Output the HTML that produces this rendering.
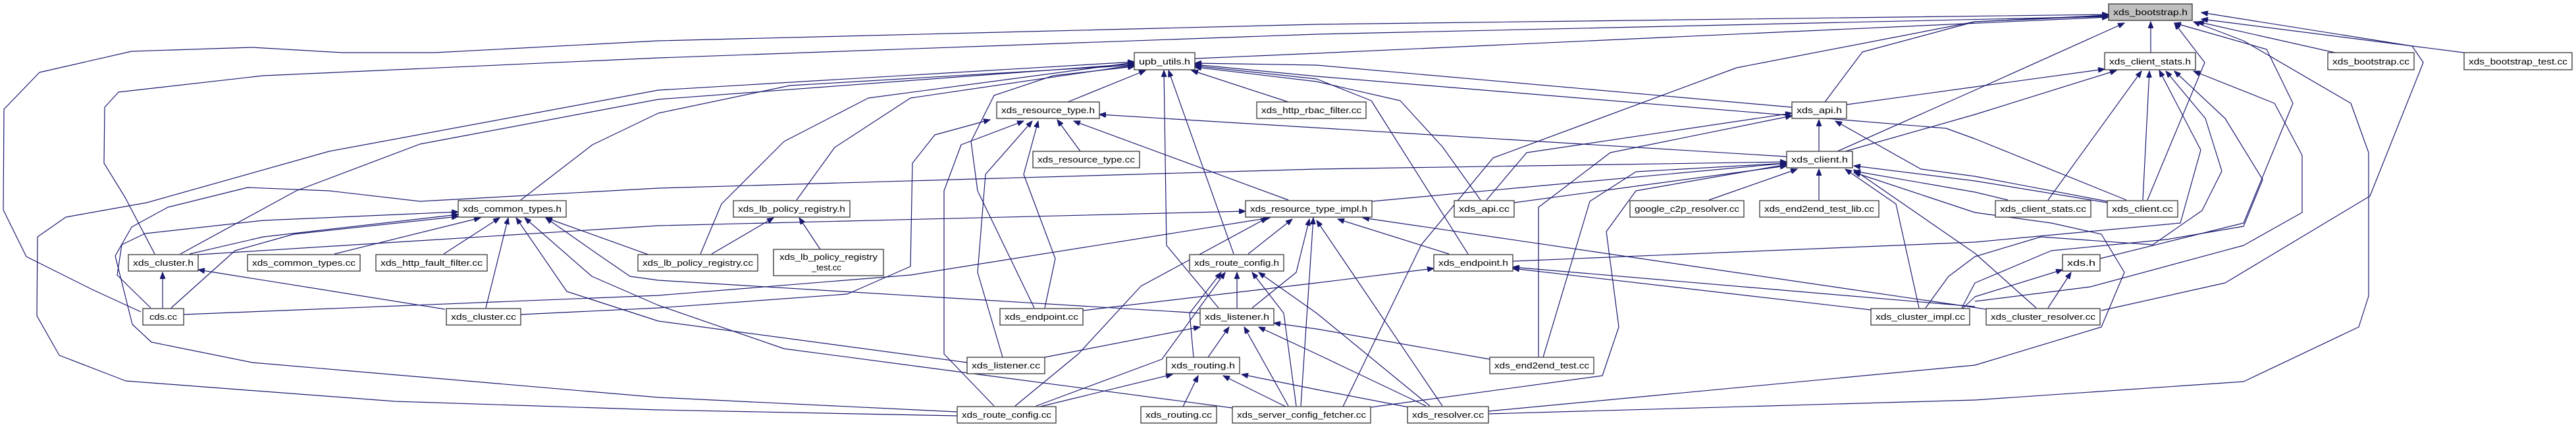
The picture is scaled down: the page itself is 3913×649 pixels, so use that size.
<!DOCTYPE html>
<html><head><meta charset="utf-8"><style>
html,body{margin:0;padding:0;background:#fff;}
svg{display:block;}
.e{fill:none;stroke:#191970;stroke-width:1.2;stroke-linejoin:round;marker-end:url(#a);}
.n{fill:#fff;stroke:#333;stroke-width:1.3;}
.t{font-family:"Liberation Sans",sans-serif;font-size:13px;fill:#000;}
</style></head><body>
<svg width="3913" height="649" viewBox="0 0 3913 649" xmlns="http://www.w3.org/2000/svg">
<defs><marker id="a" markerWidth="11" markerHeight="8" refX="10" refY="4" orient="auto" markerUnits="userSpaceOnUse"><path d="M0,0L10,4L0,8z" fill="#191970" stroke="#191970"/></marker></defs>
<g>
<polyline class="e" points="214,474 140,440 40,390 5,319 6,166 60,110 200,78 383,72 520,80 660,80 1000,62 2000,37 3203,22"/>
<polyline class="e" points="235,386 190,300 158,248 159,163 180,140 400,115 1000,88 2000,52 3203,25"/>
<polyline class="e" points="1454,632 1000,623 600,610 191,579 90,540 56,480 57,360 100,330 223,308 500,230 1000,137 1723,94"/>
<polyline class="e" points="274,386 450,290 638,219 1000,151 1723,97"/>
<polyline class="e" points="791,304 900,220 1000,172 1200,130 1723,99"/>
<polyline class="e" points="1454,626 1000,604 383,551 230,520 201,493 175,389 200,345 255,315 376,285 500,290 638,306 1000,286 2000,257 2714,246"/>
<polyline class="e" points="229,468 190,430 178,418 185,372 220,355 400,335 696,322"/>
<polyline class="e" points="288,386 400,360 696,326"/>
<polyline class="e" points="260,468 357,381 446,356 696,329"/>
<polyline class="e" points="508,386 730,331"/>
<polyline class="e" points="674,386 759,331"/>
<polyline class="e" points="738,468 772,331"/>
<polyline class="e" points="1469,551 1000,488 861,443 784,331"/>
<polyline class="e" points="1823,476 1000,426 957,420 906,385 829,331"/>
<polyline class="e" points="279,478 1000,449 1383,418 1929,331"/>
<polyline class="e" points="791,478 1000,468 1287,447 1383,405 1386,248 1420,205 1504,182"/>
<polyline class="e" points="1872,620 1191,530 1000,464 899,420 797,331"/>
<polyline class="e" points="301,387 1000,343 1892,321"/>
<polyline class="e" points="985,387 829,331"/>
<polyline class="e" points="1064,386 1096,310 1191,215 1319,149 1723,95"/>
<polyline class="e" points="1210,304 1268,224 1383,149 1723,99"/>
<polyline class="e" points="1081,386 1175,331"/>
<polyline class="e" points="1246,379 1214,331"/>
<polyline class="e" points="1815,89 2000,81 3203,26"/>
<polyline class="e" points="1622,155 1740,107"/>
<polyline class="e" points="1571,468 1485,290 1475,215 1510,145 1600,115 1723,101"/>
<polyline class="e" points="1851,468 1772,373 1768,107"/>
<polyline class="e" points="1874,386 1775,107"/>
<polyline class="e" points="1957,155 1810,107"/>
<polyline class="e" points="2722,163 2000,99 1815,96"/>
<polyline class="e" points="3230,304 3000,211 2956,195 2000,116 1815,98"/>
<polyline class="e" points="2230,386 2083,153 2000,120 1815,100"/>
<polyline class="e" points="2249,304 2191,223 2127,153 2000,124 1815,102"/>
<polyline class="e" points="1641,230 1606,182"/>
<polyline class="e" points="1957,304 1631,184"/>
<polyline class="e" points="2714,238 1670,174"/>
<polyline class="e" points="1510,617 1434,538 1434,290 1460,220 1555,184"/>
<polyline class="e" points="1523,543 1485,414 1497,265 1568,184"/>
<polyline class="e" points="1587,468 1603,393 1555,265 1577,184"/>
<polyline class="e" points="1896,386 1963,333"/>
<polyline class="e" points="1902,468 1969,414 1989,333"/>
<polyline class="e" points="1542,617 1638,538 1733,435 1925,331"/>
<polyline class="e" points="1976,617 1995,331"/>
<polyline class="e" points="2191,617 2000,335"/>
<polyline class="e" points="2201,386 2032,333"/>
<polyline class="e" points="3017,470 2070,331"/>
<polyline class="e" points="2084,306 2714,248"/>
<polyline class="e" points="1879,468 1879,414"/>
<polyline class="e" points="1813,543 1807,476 1855,414"/>
<polyline class="e" points="1574,617 1765,546 1861,414"/>
<polyline class="e" points="1969,617 1950,476 1902,414"/>
<polyline class="e" points="2172,617 2000,476 1912,414"/>
<polyline class="e" points="1587,543 1823,497"/>
<polyline class="e" points="1835,543 1867,497"/>
<polyline class="e" points="1957,617 1890,497"/>
<polyline class="e" points="2166,617 2000,538 1912,497"/>
<polyline class="e" points="2263,546 2000,500 1935,491"/>
<polyline class="e" points="1797,618 1820,571"/>
<polyline class="e" points="1580,618 1781,569"/>
<polyline class="e" points="1953,618 1858,571"/>
<polyline class="e" points="2140,619 2000,592 1886,569"/>
<polyline class="e" points="1645,472 2000,430 2178,408"/>
<polyline class="e" points="2842,471 2298,408"/>
<polyline class="e" points="3000,466 2298,406"/>
<polyline class="e" points="2298,397 3000,368 3312,339 3343,228 3280,107"/>
<polyline class="e" points="2763,230 2763,182"/>
<polyline class="e" points="2258,304 2319,232 2722,172"/>
<polyline class="e" points="2337,543 2337,315 2446,232 2722,176"/>
<polyline class="e" points="3201,306 3000,268 2918,257 2788,184"/>
<polyline class="e" points="2772,155 2829,79 3000,33 3203,24"/>
<polyline class="e" points="2805,159 3000,132 3197,105"/>
<polyline class="e" points="2596,304 2730,257"/>
<polyline class="e" points="2763,304 2763,257"/>
<polyline class="e" points="2300,308 2714,252"/>
<polyline class="e" points="2344,543 2415,306 2485,261 2714,248"/>
<polyline class="e" points="2082,619 2434,571 2459,497 2440,352 2485,290 2714,250"/>
<polyline class="e" points="2915,468 2880,310 2803,257"/>
<polyline class="e" points="3093,468 3000,385 2816,258"/>
<polyline class="e" points="3201,308 3000,275 2816,252"/>
<polyline class="e" points="3050,304 3000,292 2816,260"/>
<polyline class="e" points="2261,625 3000,555 3192,497 3227,414 3192,356 3116,339 3000,323 2816,262"/>
<polyline class="e" points="2261,629 3000,608 3408,580 3583,497 3598,450 3598,232 3571,157 3408,62 3332,33"/>
<polyline class="e" points="2791,230 3000,137 3227,35"/>
<polyline class="e" points="2803,230 3000,174 3215,107"/>
<polyline class="e" points="3267,80 3267,33"/>
<polyline class="e" points="3111,304 3253,108"/>
<polyline class="e" points="3255,304 3265,108"/>
<polyline class="e" points="2925,468 2960,420 3000,390 3100,360 3270,372 3345,320 3375,260 3350,180 3290,108"/>
<polyline class="e" points="2980,468 3000,430 3116,381 3291,364 3408,344 3437,273 3380,180 3303,108"/>
<polyline class="e" points="3000,458 3175,436 3408,373 3497,323 3497,236 3455,157 3332,108"/>
<polyline class="e" points="3190,393 3408,339 3483,157 3443,75 3303,35"/>
<polyline class="e" points="3192,472 3380,430 3600,298 3681,95 3664,70 3344,19"/>
<polyline class="e" points="2980,470 3000,451 3133,410"/>
<polyline class="e" points="3111,468 3146,414"/>
<polyline class="e" points="3262,304 3349,95 3303,35"/>
<polyline class="e" points="3547,80 3338,33"/>
<polyline class="e" points="3743,80 3344,29"/>
<polyline class="e" points="2040,618 2159,372 2268,240 2638,103 3000,33 3203,23"/>
<polyline class="e" points="247,468 247,414"/>
<polyline class="e" points="676,470 301,410"/>
</g>
<g>
<rect x="3203" y="6" width="127" height="25" fill="#bfbfbf" stroke="#333" stroke-width="1.3"/><text class="t" x="3210" y="23" textLength="113" lengthAdjust="spacingAndGlyphs">xds_bootstrap.h</text>
<rect class="n" x="1723" y="80" width="92" height="26"/><text class="t" x="1730" y="98" textLength="78" lengthAdjust="spacingAndGlyphs">upb_utils.h</text>
<rect class="n" x="3197" y="80" width="138" height="26"/><text class="t" x="3204" y="98" textLength="124" lengthAdjust="spacingAndGlyphs">xds_client_stats.h</text>
<rect class="n" x="3536" y="80" width="131" height="26"/><text class="t" x="3543" y="98" textLength="117" lengthAdjust="spacingAndGlyphs">xds_bootstrap.cc</text>
<rect class="n" x="3743" y="80" width="164" height="26"/><text class="t" x="3750" y="98" textLength="150" lengthAdjust="spacingAndGlyphs">xds_bootstrap_test.cc</text>
<rect class="n" x="1514" y="155" width="156" height="25"/><text class="t" x="1521" y="172" textLength="142" lengthAdjust="spacingAndGlyphs">xds_resource_type.h</text>
<rect class="n" x="1909" y="155" width="166" height="25"/><text class="t" x="1916" y="172" textLength="152" lengthAdjust="spacingAndGlyphs">xds_http_rbac_filter.cc</text>
<rect class="n" x="2722" y="155" width="83" height="25"/><text class="t" x="2729" y="172" textLength="69" lengthAdjust="spacingAndGlyphs">xds_api.h</text>
<rect class="n" x="1569" y="230" width="162" height="25"/><text class="t" x="1576" y="247" textLength="148" lengthAdjust="spacingAndGlyphs">xds_resource_type.cc</text>
<rect class="n" x="2714" y="230" width="100" height="25"/><text class="t" x="2721" y="247" textLength="86" lengthAdjust="spacingAndGlyphs">xds_client.h</text>
<rect class="n" x="696" y="305" width="164" height="25"/><text class="t" x="703" y="322" textLength="150" lengthAdjust="spacingAndGlyphs">xds_common_types.h</text>
<rect class="n" x="1114" y="305" width="177" height="25"/><text class="t" x="1121" y="322" textLength="163" lengthAdjust="spacingAndGlyphs">xds_lb_policy_registry.h</text>
<rect class="n" x="1892" y="305" width="192" height="25"/><text class="t" x="1899" y="322" textLength="178" lengthAdjust="spacingAndGlyphs">xds_resource_type_impl.h</text>
<rect class="n" x="2209" y="305" width="91" height="25"/><text class="t" x="2216" y="322" textLength="77" lengthAdjust="spacingAndGlyphs">xds_api.cc</text>
<rect class="n" x="2476" y="305" width="173" height="25"/><text class="t" x="2483" y="322" textLength="159" lengthAdjust="spacingAndGlyphs">google_c2p_resolver.cc</text>
<rect class="n" x="2673" y="305" width="181" height="25"/><text class="t" x="2680" y="322" textLength="167" lengthAdjust="spacingAndGlyphs">xds_end2end_test_lib.cc</text>
<rect class="n" x="3031" y="305" width="145" height="25"/><text class="t" x="3038" y="322" textLength="131" lengthAdjust="spacingAndGlyphs">xds_client_stats.cc</text>
<rect class="n" x="3201" y="305" width="107" height="25"/><text class="t" x="3208" y="322" textLength="93" lengthAdjust="spacingAndGlyphs">xds_client.cc</text>
<rect class="n" x="195" y="387" width="106" height="25"/><text class="t" x="202" y="404" textLength="92" lengthAdjust="spacingAndGlyphs">xds_cluster.h</text>
<rect class="n" x="376" y="387" width="171" height="25"/><text class="t" x="383" y="404" textLength="157" lengthAdjust="spacingAndGlyphs">xds_common_types.cc</text>
<rect class="n" x="571" y="387" width="169" height="25"/><text class="t" x="578" y="404" textLength="155" lengthAdjust="spacingAndGlyphs">xds_http_fault_filter.cc</text>
<rect class="n" x="969" y="387" width="182" height="25"/><text class="t" x="976" y="404" textLength="168" lengthAdjust="spacingAndGlyphs">xds_lb_policy_registry.cc</text>
<rect class="n" x="1175" y="379" width="167" height="40"/><text class="t" x="1184" y="395" textLength="149" lengthAdjust="spacingAndGlyphs">xds_lb_policy_registry</text><text class="t" x="1233" y="411">_test.cc</text>
<rect class="n" x="1807" y="387" width="143" height="25"/><text class="t" x="1814" y="404" textLength="129" lengthAdjust="spacingAndGlyphs">xds_route_config.h</text>
<rect class="n" x="2178" y="387" width="120" height="25"/><text class="t" x="2185" y="404" textLength="106" lengthAdjust="spacingAndGlyphs">xds_endpoint.h</text>
<rect class="n" x="3133" y="387" width="57" height="25"/><text class="t" x="3140" y="404" textLength="43" lengthAdjust="spacingAndGlyphs">xds.h</text>
<rect class="n" x="217" y="469" width="62" height="25"/><text class="t" x="227" y="486" textLength="42" lengthAdjust="spacingAndGlyphs">cds.cc</text>
<rect class="n" x="678" y="469" width="113" height="25"/><text class="t" x="685" y="486" textLength="99" lengthAdjust="spacingAndGlyphs">xds_cluster.cc</text>
<rect class="n" x="1519" y="469" width="126" height="25"/><text class="t" x="1526" y="486" textLength="112" lengthAdjust="spacingAndGlyphs">xds_endpoint.cc</text>
<rect class="n" x="1823" y="469" width="112" height="25"/><text class="t" x="1830" y="486" textLength="98" lengthAdjust="spacingAndGlyphs">xds_listener.h</text>
<rect class="n" x="2842" y="469" width="150" height="25"/><text class="t" x="2849" y="486" textLength="136" lengthAdjust="spacingAndGlyphs">xds_cluster_impl.cc</text>
<rect class="n" x="3017" y="469" width="173" height="25"/><text class="t" x="3024" y="486" textLength="159" lengthAdjust="spacingAndGlyphs">xds_cluster_resolver.cc</text>
<rect class="n" x="1469" y="543" width="118" height="25"/><text class="t" x="1476" y="560" textLength="104" lengthAdjust="spacingAndGlyphs">xds_listener.cc</text>
<rect class="n" x="1772" y="543" width="111" height="25"/><text class="t" x="1779" y="560" textLength="97" lengthAdjust="spacingAndGlyphs">xds_routing.h</text>
<rect class="n" x="2263" y="543" width="158" height="25"/><text class="t" x="2270" y="560" textLength="144" lengthAdjust="spacingAndGlyphs">xds_end2end_test.cc</text>
<rect class="n" x="1454" y="618" width="150" height="25"/><text class="t" x="1461" y="635" textLength="136" lengthAdjust="spacingAndGlyphs">xds_route_config.cc</text>
<rect class="n" x="1733" y="618" width="115" height="25"/><text class="t" x="1740" y="635" textLength="101" lengthAdjust="spacingAndGlyphs">xds_routing.cc</text>
<rect class="n" x="1872" y="618" width="210" height="25"/><text class="t" x="1879" y="635" textLength="196" lengthAdjust="spacingAndGlyphs">xds_server_config_fetcher.cc</text>
<rect class="n" x="2138" y="618" width="123" height="25"/><text class="t" x="2145" y="635" textLength="109" lengthAdjust="spacingAndGlyphs">xds_resolver.cc</text>
</g>
</svg>
</body></html>
